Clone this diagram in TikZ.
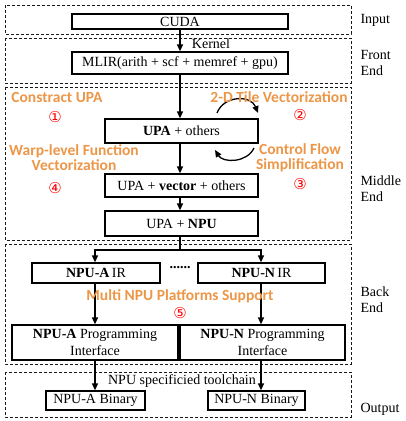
\documentclass[tikz,border=0pt]{standalone}
\usepackage{fontspec}
\setmainfont{Liberation Serif}
\newfontfamily\lblfont{Carlito}
\newfontfamily\numfont{DejaVu Sans}
\usetikzlibrary{arrows.meta}
\definecolor{passorange}{RGB}{236,150,72}

\begin{document}
\begin{tikzpicture}[x=1pt,y=-1pt,
    box/.style={draw, line width=1.3pt, rectangle, inner sep=0pt, font=\fontsize{14}{17}\selectfont},
    stage/.style={draw, line width=0.8pt, dash pattern=on 3pt off 2pt, gray!20!black},
    arr/.style={line width=1.3pt, -{Triangle[length=7pt,width=6pt]}},
    pass/.style={text=passorange, font=\lblfont\bfseries\fontsize{15.5}{15}\selectfont, align=center},
    stepnum/.style={text=red, font=\numfont\fontsize{15}{15}\selectfont},
    side/.style={anchor=west, align=left, font=\fontsize{14}{16}\selectfont}]
    \useasboundingbox (0,0) rectangle (406,421);
    % stages
    \draw[stage] (5,5) rectangle (351,34);
    \draw[stage] (5,38) rectangle (351,83);
    \draw[stage] (5,87) rectangle (351,240);
    \draw[stage] (5,244) rectangle (351,364);
    \draw[stage] (5,372) rectangle (351,417);
    \node[side] (input) at (357,20) {Input};
    \node[side] (front) at (357,63) {Front\\End};
    \node[side] (middle) at (357,189) {Middle\\End};
    \node[side] (back) at (357,300) {Back\\End};
    \node[side] (output) at (357,409) {Output};
    % boxes
    \node[box, minimum width=216pt, minimum height=15pt] (cuda) at (180,21.5) {CUDA};
    \node[box, minimum width=216pt, minimum height=22pt] (mlir) at (180,63) {MLIR(arith + scf + memref + gpu)};
    \node[box, minimum width=153pt, minimum height=24pt] (upa) at (181.5,131) {\textbf{UPA} + others};
    \node[box, minimum width=153pt, minimum height=23pt] (vec) at (181.5,185.5) {UPA + \textbf{vector} + others};
    \node[box, minimum width=153pt, minimum height=25pt] (npu) at (181.5,223.5) {UPA + \textbf{NPU}};
    \node[box, minimum width=128pt, minimum height=20pt] (irA) at (96,273) {\textbf{NPU-A}\,IR};
    \node[box, minimum width=127pt, minimum height=20pt] (irN) at (261.5,273) {\textbf{NPU-N}\,IR};
    \node[font=\fontsize{14}{14}\selectfont] (dots) at (180,268) {\textbf{......}};
    \node[box, minimum width=166pt, minimum height=35pt, align=center] (progA) at (95,342.5) {\textbf{NPU-A} Programming\\Interface};
    \node[box, minimum width=165pt, minimum height=35pt, align=center] (progN) at (262.5,342.5) {\textbf{NPU-N} Programming\\Interface};
    \node[box, minimum width=99pt, minimum height=19pt] (binA) at (95.5,400.5) {NPU-A Binary};
    \node[box, minimum width=97pt, minimum height=19pt] (binN) at (256.5,400.5) {NPU-N Binary};
    % flow
    \draw[arr] (cuda.south -| 180,0) -- (mlir.north -| 180,0);
    \node[font=\fontsize{14}{14}\selectfont] (kernel) at (211,44) {Kernel};
    \draw[arr] (mlir.south -| 180,0) -- (upa.north -| 180,0);
    \draw[arr] (upa.south -| 180,0) -- (vec.north -| 180,0);
    \draw[arr] (vec.south -| 180,0) -- (npu.north -| 180,0);
    \coordinate (split) at (180,250);
    \draw[line width=1.3pt] (npu.south -| 180,0) -- (split);
    \draw[arr] (split) -| (irA.north -| 95,0);
    \draw[arr] (split) -| (irN.north -| 261,0);
    \draw[arr] (irA.south -| 95,0) -- (progA.north -| 95,0);
    \draw[arr] (irN.south -| 261,0) -- (progN.north -| 261,0);
    \draw[arr] (progA.south -| 95,0) -- (binA.north -| 95,0);
    \draw[arr] (progN.south -| 261,0) -- (binN.north -| 261,0);
    \node[font=\fontsize{14}{14}\selectfont] (chain) at (182,381) {NPU specificied toolchain};
    % loops round UPA
    \draw[arr] (217,113) .. controls (224,95) and (251,95) .. (258,113);
    \draw[arr] (254,148) .. controls (247,163) and (223,163) .. (215,150);
    % passes
    \node[pass] (p1) at (57,97) {Constract UPA};
    \node[stepnum] (n1) at (55,117) {①};
    \node[pass] (p2) at (279,97) {2-D Tile Vectorization};
    \node[stepnum] (n2) at (300,115) {②};
    \node[pass] (p3) at (300,158) {Control Flow\\Simplification};
    \node[stepnum] (n3) at (300,184) {③};
    \node[pass] (p4) at (74,158) {Warp-level Function\\Vectorization};
    \node[stepnum] (n4) at (55,188) {④};
    \node[pass] (p5) at (180,296) {Multi NPU Platforms Support};
    \node[stepnum] (n5) at (180,313) {⑤};
\end{tikzpicture}
\end{document}
